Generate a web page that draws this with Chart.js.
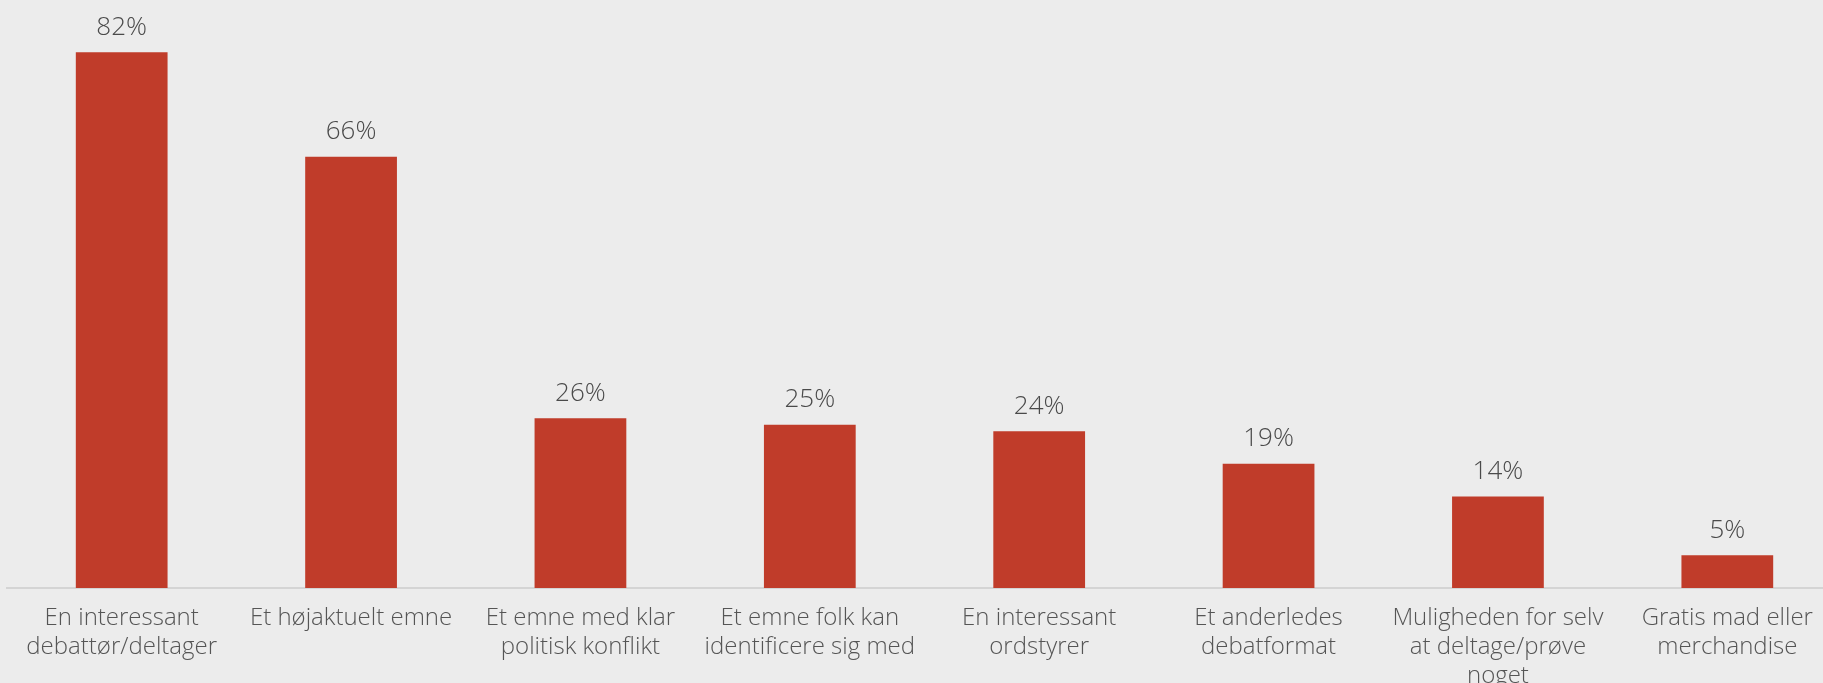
<!DOCTYPE html>
<html>
<head>
<meta charset="utf-8">
<script src="https://cdn.jsdelivr.net/npm/chart.js@4/dist/chart.umd.min.js"></script>
<style>
  html, body { margin: 0; padding: 0; background: #ececec; overflow: hidden; }
  #wrap { position: relative; width: 1845px; height: 683px; }
</style>
</head>
<body>
<div id="wrap"><canvas id="barChart"></canvas></div>
<script>
// data
var categories = [
    ['En interessant', 'debattør/deltager'],
    'Et højaktuelt emne',
    ['Et emne med klar', 'politisk konflikt'],
    ['Et emne folk kan', 'identificere sig med'],
    ['En interessant', 'ordstyrer'],
    ['Et anderledes', 'debatformat'],
    ['Muligheden for selv', 'at deltage/prøve', 'noget'],
    ['Gratis mad eller', 'merchandise']
];
var shares = [82, 66, 26, 25, 24, 19, 14, 5];

// labels above bars
var valueLabels = {
    id: 'valueLabels',
    afterDatasetsDraw: function(chart) {
        var ctx = chart.ctx;
        var meta = chart.getDatasetMeta(0);
        ctx.save();
        ctx.font = '300 26px "Open Sans"';
        ctx.fillStyle = '#4a4a4a';
        ctx.textAlign = 'center';
        ctx.textBaseline = 'bottom';
        meta.data.forEach(function(bar, i) {
            ctx.fillText(shares[i] + '%', bar.x, bar.y - 12);
        });
        ctx.restore();
    }
};

var ctx = document.getElementById('barChart').getContext('2d');
var myBarChart = new Chart(ctx, {
    type: 'bar',
    data: {
        labels: categories,
        datasets: [{
            data: shares,
            backgroundColor: '#c03c2a',
            barPercentage: 0.4,
            categoryPercentage: 1.0
        }]
    },
    options: {
        responsive: true,
        maintainAspectRatio: false,
        animation: false,
        layout: { padding: { left: 7, right: 3, top: 0, bottom: 0 } },
        plugins: {
            legend: { display: false },
            tooltip: { enabled: false }
        },
        scales: {
            x: {
                grid: { display: false, drawTicks: false },
                border: { display: true, color: '#d4d4d4', width: 2 },
                ticks: {
                    color: '#555',
                    font: { family: '"Open Sans"', size: 24, weight: '300', lineHeight: 1.2 },
                    padding: 16,
                    maxRotation: 0,
                    autoSkip: false
                },
                afterFit: function(scale) { scale.height = 95; }
            },
            y: {
                display: false,
                min: 0,
                max: 90
            }
        }
    },
    plugins: [valueLabels]
});
</script>
</body>
</html>
